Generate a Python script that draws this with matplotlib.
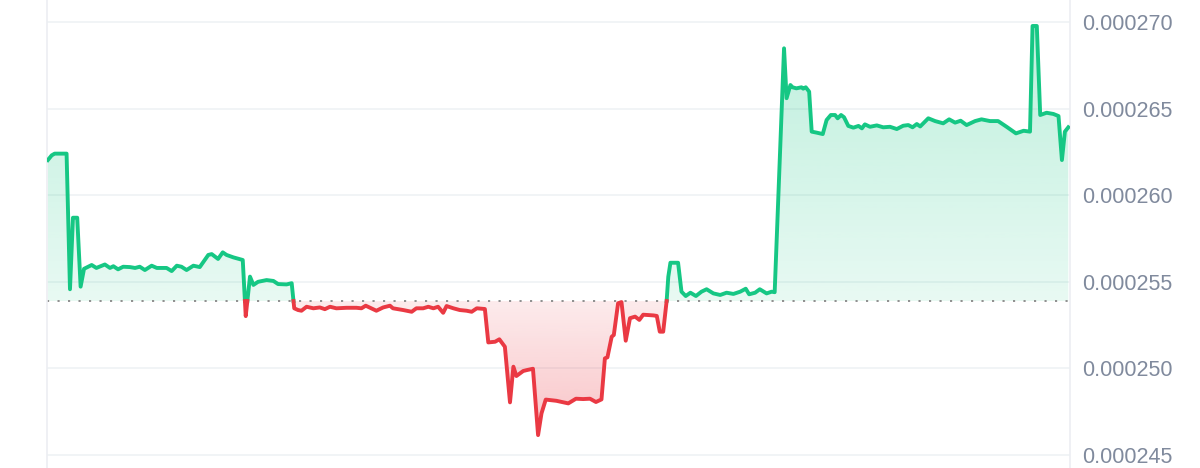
import numpy as np
import matplotlib
matplotlib.use("Agg")
import matplotlib.pyplot as plt
from matplotlib.path import Path
from matplotlib.ticker import FormatStrFormatter

# time in hours, price in units of 1e-6
hours = [0.00, 0.09, 0.16, 0.44, 0.52, 0.59, 0.69, 0.77, 0.85, 1.03, 1.14, 1.34, 1.46, 1.54,
         1.65, 1.77, 1.93, 2.05, 2.16, 2.28, 2.44, 2.56, 2.79, 2.91, 3.03, 3.14, 3.26, 3.42,
         3.57, 3.77, 3.85, 4.00, 4.11, 4.20, 4.36, 4.58, 4.65, 4.75, 4.83, 4.94, 5.14, 5.30,
         5.41, 5.61, 5.73, 5.79, 5.88, 5.96, 6.08, 6.24, 6.39, 6.51, 6.63, 6.78, 7.02, 7.25,
         7.37, 7.47, 7.72, 7.88, 8.04, 8.11, 8.35, 8.55, 8.66, 8.82, 8.94, 9.06, 9.17, 9.29,
         9.37, 9.53, 9.68, 9.84, 9.96, 10.08, 10.27, 10.35, 10.51, 10.61, 10.74, 10.86, 10.94,
         11.01, 11.17, 11.25, 11.40, 11.52, 11.60, 11.70, 11.95, 12.23, 12.41, 12.58, 12.74,
         12.88, 13.01, 13.09, 13.15, 13.25, 13.30, 13.40, 13.48, 13.58, 13.68, 13.80, 13.90,
         13.99, 14.23, 14.31, 14.38, 14.46, 14.54, 14.58, 14.63, 14.81, 14.89, 14.99, 15.10,
         15.23, 15.36, 15.48, 15.64, 15.80, 15.95, 16.11, 16.27, 16.40, 16.48, 16.62, 16.73,
         16.89, 17.01, 17.08, 17.30, 17.36, 17.45, 17.50, 17.59, 17.71, 17.75, 17.81, 17.89,
         17.95, 18.07, 18.21, 18.30, 18.40, 18.50, 18.56, 18.64, 18.71, 18.81, 18.93, 19.05,
         19.13, 19.20, 19.32, 19.48, 19.63, 19.79, 19.95, 20.10, 20.22, 20.32, 20.42, 20.50,
         20.69, 20.85, 21.04, 21.18, 21.32, 21.45, 21.59, 21.79, 21.94, 22.14, 22.33, 22.53,
         22.75, 22.93, 23.08, 23.14, 23.24, 23.32, 23.47, 23.63, 23.75, 23.83, 23.90, 23.98]
price = [262.03, 262.30, 262.40, 262.40, 254.57, 258.70, 258.70, 254.72, 255.75, 255.97, 255.80,
         256.00, 255.80, 255.90, 255.72, 255.87, 255.85, 255.80, 255.87, 255.68, 255.93, 255.80,
         255.80, 255.62, 255.93, 255.87, 255.68, 255.93, 255.85, 256.55, 256.60, 256.32, 256.70,
         256.55, 256.41, 256.26, 253.02, 255.30, 254.82, 255.00, 255.10, 255.05, 254.87, 254.85,
         254.92, 253.47, 253.37, 253.33, 253.56, 253.47, 253.52, 253.42, 253.56, 253.47, 253.50,
         253.50, 253.47, 253.62, 253.33, 253.52, 253.62, 253.47, 253.37, 253.27, 253.47, 253.47,
         253.56, 253.47, 253.56, 253.21, 253.60, 253.47, 253.37, 253.33, 253.27, 253.47, 253.43,
         251.50, 251.54, 251.68, 251.25, 248.04, 250.10, 249.56, 249.85, 249.90, 249.98, 246.15,
         247.40, 248.20, 248.13, 247.98, 248.25, 248.23, 248.25, 248.06, 248.21, 250.58, 250.64,
         251.83, 251.93, 253.76, 253.83, 251.60, 252.90, 252.99, 252.80, 253.10, 253.06, 253.03,
         252.12, 252.12, 253.85, 255.29, 256.10, 256.10, 254.43, 254.18, 254.37, 254.18, 254.43,
         254.57, 254.33, 254.24, 254.37, 254.30, 254.43, 254.60, 254.28, 254.37, 254.57, 254.33,
         254.43, 254.40, 268.48, 265.60, 266.36, 266.23, 266.17, 266.23, 266.15, 266.23, 265.98,
         263.67, 263.61, 263.53, 264.34, 264.63, 264.63, 264.44, 264.63, 264.50, 264.00, 263.90,
         264.00, 263.86, 264.09, 263.95, 264.03, 263.92, 263.95, 263.82, 264.01, 264.05, 263.92,
         264.11, 263.97, 264.44, 264.28, 264.15, 264.38, 264.19, 264.30, 264.05, 264.28, 264.38,
         264.28, 264.28, 263.95, 263.57, 263.72, 263.67, 269.77, 269.77, 264.63, 264.76, 264.69,
         264.57, 262.03, 263.67, 263.92]
base_price = 253.89
yticks = [245, 250, 255, 260, 265, 270]

GREEN = "#16c784"
RED = "#ea3943"

t = np.array(hours)
p = np.array(price) * 1e-6
base = base_price * 1e-6

# add crossing points so the two colours meet at the baseline
xs, ps = [], []
for i in range(len(t) - 1):
    xs.append(t[i]); ps.append(p[i])
    if (p[i] - base) * (p[i + 1] - base) < 0:
        f = (base - p[i]) / (p[i + 1] - p[i])
        xs.append(t[i] + f * (t[i + 1] - t[i])); ps.append(base)
xs.append(t[-1]); ps.append(p[-1])
xs = np.array(xs); ps = np.array(ps)

fig = plt.figure(figsize=(12, 4.68), dpi=100)
ax = fig.add_axes([47 / 1200, 0, 1023 / 1200, 1])

ymin, ymax = 244.25e-6, 271.27e-6
ax.set_xlim(-0.02, 24.02)
ax.set_ylim(ymin, ymax)


def gradient_fill(mask, color, lo, hi, a_lo, a_hi):
    poly = ax.fill_between(xs, ps, base, where=mask, interpolate=True,
                           color="none", linewidth=0)
    path = Path.make_compound_path(*poly.get_paths())
    rgb = matplotlib.colors.to_rgb(color)
    n = 256
    img = np.zeros((n, 1, 4))
    img[:, 0, :3] = rgb
    img[:, 0, 3] = np.linspace(a_lo, a_hi, n)
    im = ax.imshow(img, aspect="auto", origin="lower",
                   extent=(xs[0], xs[-1], lo, hi), zorder=1)
    im.set_clip_path(path, ax.transData)


gradient_fill(ps >= base, GREEN, base, p.max(), 0.10, 0.28)
gradient_fill(ps <= base, RED, base, p.min(), 0.10, 0.30)

up = np.where(ps >= base, ps, np.nan)
down = np.where(ps <= base, ps, np.nan)
ax.plot(xs, up, color=GREEN, lw=2.8, zorder=3, solid_joinstyle="round")
ax.plot(xs, down, color=RED, lw=2.8, zorder=3, solid_joinstyle="round")

ax.axhline(base, color="#8f8f8f", lw=1.4, ls=(0, (1.1, 4.3)), zorder=2)

ax.set_yticks([v * 1e-6 for v in yticks])
ax.yaxis.set_major_formatter(FormatStrFormatter("%.6f"))
ax.yaxis.tick_right()
ax.tick_params(axis="y", length=0, pad=9, labelsize=15.5, labelcolor="#808a9d")
for lab in ax.get_yticklabels():
    lab.set_family("Liberation Sans")
ax.set_xticks([])
ax.grid(axis="y", color="#eff2f5", lw=1.2, zorder=0)
ax.set_axisbelow(True)

for s in ["top", "bottom"]:
    ax.spines[s].set_visible(False)
for s in ["left", "right"]:
    ax.spines[s].set_color("#eceef2")
    ax.spines[s].set_linewidth(1.2)

fig.savefig("out.png", dpi=100)
